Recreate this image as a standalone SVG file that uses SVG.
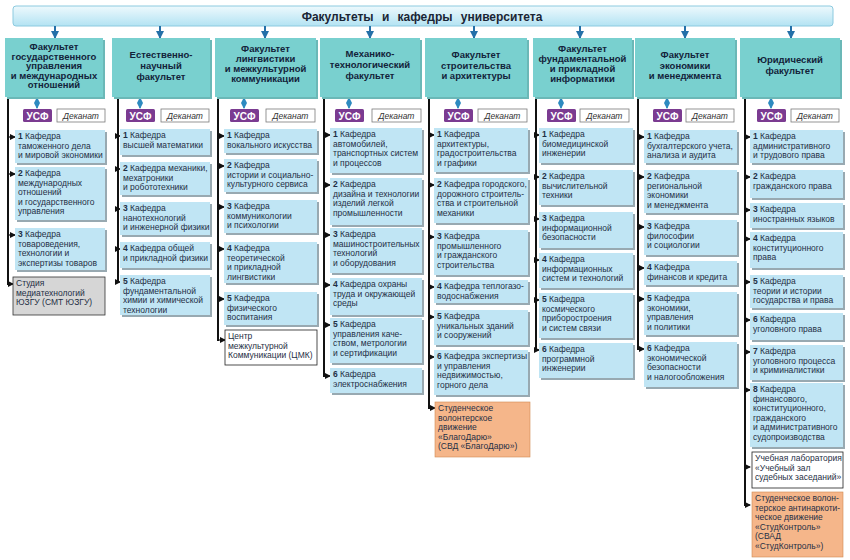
<svg xmlns="http://www.w3.org/2000/svg" width="850" height="560" viewBox="0 0 850 560">
<style>
.hd{fill:url(#hg);stroke:#8ccadf;stroke-width:1}
.htx{font:bold 12px 'Liberation Sans',sans-serif;fill:#1a2535;text-anchor:middle;word-spacing:5px}
.fac{fill:#79d0cf}
.fsh{fill:#6bb8b7}
.ft{font:bold 9.5px 'Liberation Sans',sans-serif;fill:#13233a;text-anchor:middle}
.it{fill:#c0e5f4}
.sh{fill:#98a9b1}
.gr{fill:#d6d6d6;stroke:#333;stroke-width:0.8}
.wh{fill:#fff;stroke:#222;stroke-width:0.8}
.or{fill:#f5b68a;stroke:#cf8a52;stroke-width:0.6}
.t{font:8.5px 'Liberation Sans',sans-serif;fill:#1f2f45}
.n{font-weight:bold}
.usf{fill:#7b3b91}
.ut{font:bold 10px 'Liberation Sans',sans-serif;fill:#fff;text-anchor:middle}
.dek{fill:#fff;stroke:#7a7a7a;stroke-width:0.8}
.dt{font:italic 8.5px 'Liberation Sans',sans-serif;fill:#333;text-anchor:middle}
.vl{stroke:#111;stroke-width:2;fill:none}
.br{stroke:#111;stroke-width:1.2;marker-end:url(#ab)}
.ha{stroke:#2470a8;stroke-width:2;marker-end:url(#abl)}
.da{stroke:#2d8ac0;stroke-width:1.5;marker-start:url(#ads);marker-end:url(#ade)}
</style>
<defs>
<linearGradient id="hg" x1="0" y1="0" x2="0" y2="1">
<stop offset="0" stop-color="#eef9fd"/><stop offset="1" stop-color="#b3e3f3"/>
</linearGradient>
<marker id="ab" markerWidth="6" markerHeight="6" refX="5" refY="3" orient="auto" markerUnits="userSpaceOnUse"><path d="M0,0 L6,3 L0,6 z" fill="#111"/></marker>
<marker id="abl" markerWidth="8" markerHeight="8" refX="7" refY="4" orient="auto" markerUnits="userSpaceOnUse"><path d="M0,0 L8,4 L0,8 z" fill="#2470a8"/></marker>
<marker id="ade" markerWidth="6" markerHeight="6" refX="5" refY="3" orient="auto" markerUnits="userSpaceOnUse"><path d="M0,0 L6,3 L0,6 z" fill="#2d8ac0"/></marker>
<marker id="ads" markerWidth="6" markerHeight="6" refX="1" refY="3" orient="auto" markerUnits="userSpaceOnUse"><path d="M6,0 L0,3 L6,6 z" fill="#2d8ac0"/></marker>
</defs>
<rect width="850" height="560" fill="#fff"/>

<g id="header">
<rect class="hd" x="13" y="6" width="820" height="20" rx="3"/>
<text class="htx" x="422" y="20.5">Факультеты и кафедры университета</text>
</g>

<g id="connectors">
<line class="ha" x1="55" y1="26" x2="55" y2="38"/>
<line class="ha" x1="160" y1="26" x2="160" y2="38"/>
<line class="ha" x1="265" y1="26" x2="265" y2="38"/>
<line class="ha" x1="370" y1="26" x2="370" y2="38"/>
<line class="ha" x1="474" y1="26" x2="474" y2="38"/>
<line class="ha" x1="580" y1="26" x2="580" y2="38"/>
<line class="ha" x1="685" y1="26" x2="685" y2="38"/>
<line class="ha" x1="791" y1="26" x2="791" y2="38"/>

<line class="da" x1="37" y1="98" x2="37" y2="108"/>
<line class="da" x1="140" y1="98" x2="140" y2="108"/>
<line class="da" x1="244" y1="98" x2="244" y2="108"/>
<line class="da" x1="349" y1="98" x2="349" y2="108"/>
<line class="da" x1="458" y1="98" x2="458" y2="108"/>
<line class="da" x1="561" y1="98" x2="561" y2="108"/>
<line class="da" x1="667" y1="98" x2="667" y2="108"/>
<line class="da" x1="771" y1="98" x2="771" y2="108"/>

<line class="vl" x1="8" y1="97" x2="8" y2="285"/>
<line class="br" x1="8" y1="137" x2="15" y2="137"/>
<line class="br" x1="8" y1="174" x2="15" y2="174"/>
<line class="br" x1="8" y1="235" x2="15" y2="235"/>
<line class="br" x1="8" y1="284" x2="13" y2="284"/>

<line class="vl" x1="118" y1="97" x2="118" y2="283"/>
<line class="br" x1="118" y1="136" x2="120" y2="136"/>
<line class="br" x1="118" y1="169" x2="120" y2="169"/>
<line class="br" x1="118" y1="209" x2="120" y2="209"/>
<line class="br" x1="118" y1="249" x2="120" y2="249"/>
<line class="br" x1="118" y1="282" x2="120" y2="282"/>

<line class="vl" x1="218" y1="97" x2="218" y2="341"/>
<line class="br" x1="218" y1="136" x2="224" y2="136"/>
<line class="br" x1="218" y1="166" x2="224" y2="166"/>
<line class="br" x1="218" y1="207" x2="224" y2="207"/>
<line class="br" x1="218" y1="249" x2="224" y2="249"/>
<line class="br" x1="218" y1="299" x2="224" y2="299"/>
<line class="br" x1="218" y1="340" x2="225" y2="340"/>

<line class="vl" x1="324" y1="97" x2="324" y2="377"/>
<line class="br" x1="324" y1="135" x2="330" y2="135"/>
<line class="br" x1="324" y1="185" x2="330" y2="185"/>
<line class="br" x1="324" y1="235" x2="330" y2="235"/>
<line class="br" x1="324" y1="285" x2="330" y2="285"/>
<line class="br" x1="324" y1="325" x2="330" y2="325"/>
<line class="br" x1="324" y1="376" x2="330" y2="376"/>

<line class="vl" x1="429" y1="97" x2="429" y2="409"/>
<line class="br" x1="429" y1="135" x2="434" y2="135"/>
<line class="br" x1="429" y1="185" x2="434" y2="185"/>
<line class="br" x1="429" y1="237" x2="434" y2="237"/>
<line class="br" x1="429" y1="287" x2="434" y2="287"/>
<line class="br" x1="429" y1="317" x2="434" y2="317"/>
<line class="br" x1="429" y1="357" x2="434" y2="357"/>
<line class="br" x1="429" y1="408" x2="435" y2="408"/>

<line class="vl" x1="536" y1="97" x2="536" y2="351"/>
<line class="br" x1="536" y1="135" x2="539" y2="135"/>
<line class="br" x1="536" y1="177" x2="539" y2="177"/>
<line class="br" x1="536" y1="219" x2="539" y2="219"/>
<line class="br" x1="536" y1="260" x2="539" y2="260"/>
<line class="br" x1="536" y1="300" x2="539" y2="300"/>
<line class="br" x1="536" y1="350" x2="539" y2="350"/>

<line class="vl" x1="638" y1="97" x2="638" y2="350"/>
<line class="br" x1="638" y1="137" x2="644" y2="137"/>
<line class="br" x1="638" y1="177" x2="644" y2="177"/>
<line class="br" x1="638" y1="227" x2="644" y2="227"/>
<line class="br" x1="638" y1="268" x2="644" y2="268"/>
<line class="br" x1="638" y1="299" x2="644" y2="299"/>
<line class="br" x1="638" y1="349" x2="644" y2="349"/>

<line class="vl" x1="745" y1="97" x2="745" y2="506"/>
<line class="br" x1="745" y1="137" x2="750" y2="137"/>
<line class="br" x1="745" y1="177" x2="750" y2="177"/>
<line class="br" x1="745" y1="210" x2="750" y2="210"/>
<line class="br" x1="745" y1="239" x2="750" y2="239"/>
<line class="br" x1="745" y1="282" x2="750" y2="282"/>
<line class="br" x1="745" y1="320" x2="750" y2="320"/>
<line class="br" x1="745" y1="352" x2="750" y2="352"/>
<line class="br" x1="745" y1="390" x2="750" y2="390"/>
<line class="br" x1="745" y1="467" x2="750" y2="467"/>
<line class="br" x1="745" y1="505" x2="750" y2="505"/>
</g>

<!-- Column 1 -->
<g id="fac1">
<rect class="fsh" x="7" y="40" width="98" height="59"/>
<rect class="fac" x="5" y="38" width="98" height="59"/>
<text class="ft" x="54" y="50">Факультет<tspan x="54" dy="9.5">государственного</tspan><tspan x="54" dy="9.5">управления</tspan><tspan x="54" dy="9.5">и международных</tspan><tspan x="54" dy="9.5">отношений</tspan></text>
</g>
<g id="usf1"><rect class="usf" x="23" y="109" width="29" height="13" rx="1.5"/><text class="ut" x="37.5" y="119.5">УСФ</text></g>
<g id="dek1"><rect class="dek" x="57" y="109" width="48" height="13"/><text class="dt" x="81" y="118.8">Деканат</text></g>
<g id="c1i1"><rect class="sh" x="17" y="132" width="90" height="33"/><rect class="it" x="15" y="130" width="90" height="33"/>
<text class="t" x="18" y="139"><tspan class="n">1</tspan> Кафедра<tspan x="18" dy="9.6">таможенного дела</tspan><tspan x="18" dy="9.6">и мировой экономики</tspan></text></g>
<g id="c1i2"><rect class="sh" x="17" y="169" width="90" height="53"/><rect class="it" x="15" y="167" width="90" height="53"/>
<text class="t" x="18" y="176"><tspan class="n">2</tspan> Кафедра<tspan x="18" dy="9.6">международных</tspan><tspan x="18" dy="9.6">отношений</tspan><tspan x="18" dy="9.6">и государственного</tspan><tspan x="18" dy="9.6">управления</tspan></text></g>
<g id="c1i3"><rect class="sh" x="17" y="230" width="90" height="42"/><rect class="it" x="15" y="228" width="90" height="42"/>
<text class="t" x="18" y="237"><tspan class="n">3</tspan> Кафедра<tspan x="18" dy="9.6">товароведения,</tspan><tspan x="18" dy="9.6">технологии и</tspan><tspan x="18" dy="9.6">экспертизы товаров</tspan></text></g>
<g id="c1s"><rect class="gr" x="13" y="277" width="92" height="38"/>
<text class="t" x="16" y="286">Студия<tspan x="16" dy="9.6">медиатехнологий</tspan><tspan x="16" dy="9.6">ЮЗГУ (СМТ ЮЗГУ)</tspan></text></g>

<!-- Column 2 -->
<g id="fac2">
<rect class="fsh" x="114" y="40" width="98" height="59"/>
<rect class="fac" x="112" y="38" width="98" height="59"/>
<text class="ft" x="161" y="58">Естественно-<tspan x="161" dy="11">научный</tspan><tspan x="161" dy="11">факультет</tspan></text>
</g>
<g id="usf2"><rect class="usf" x="126" y="109" width="29" height="13" rx="1.5"/><text class="ut" x="140.5" y="119.5">УСФ</text></g>
<g id="dek2"><rect class="dek" x="161" y="109" width="48" height="13"/><text class="dt" x="185" y="118.8">Деканат</text></g>
<g id="c2i1"><rect class="sh" x="122" y="131" width="90" height="26"/><rect class="it" x="120" y="129" width="90" height="26"/>
<text class="t" x="123" y="138"><tspan class="n">1</tspan> Кафедра<tspan x="123" dy="9.6">высшей математики</tspan></text></g>
<g id="c2i2"><rect class="sh" x="122" y="164" width="90" height="33"/><rect class="it" x="120" y="162" width="90" height="33"/>
<text class="t" x="123" y="171"><tspan class="n">2</tspan> Кафедра механики,<tspan x="123" dy="9.6">мехатроники</tspan><tspan x="123" dy="9.6">и робототехники</tspan></text></g>
<g id="c2i3"><rect class="sh" x="122" y="204" width="90" height="33"/><rect class="it" x="120" y="202" width="90" height="33"/>
<text class="t" x="123" y="211"><tspan class="n">3</tspan> Кафедра<tspan x="123" dy="9.6">нанотехнологий</tspan><tspan x="123" dy="9.6">и инженерной физики</tspan></text></g>
<g id="c2i4"><rect class="sh" x="122" y="244" width="90" height="26"/><rect class="it" x="120" y="242" width="90" height="26"/>
<text class="t" x="123" y="251"><tspan class="n">4</tspan> Кафедра общей<tspan x="123" dy="9.6">и прикладной физики</tspan></text></g>
<g id="c2i5"><rect class="sh" x="122" y="277" width="90" height="40"/><rect class="it" x="120" y="275" width="90" height="40"/>
<text class="t" x="123" y="284"><tspan class="n">5</tspan> Кафедра<tspan x="123" dy="9.6">фундаментальной</tspan><tspan x="123" dy="9.6">химии и химической</tspan><tspan x="123" dy="9.6">технологии</tspan></text></g>

<!-- Column 3 -->
<g id="fac3">
<rect class="fsh" x="217" y="40" width="101" height="59"/>
<rect class="fac" x="215" y="38" width="101" height="59"/>
<text class="ft" x="265.5" y="52">Факультет<tspan x="265.5" dy="10">лингвистики</tspan><tspan x="265.5" dy="10">и межкультурной</tspan><tspan x="265.5" dy="10">коммуникации</tspan></text>
</g>
<g id="usf3"><rect class="usf" x="230" y="109" width="29" height="13" rx="1.5"/><text class="ut" x="244.5" y="119.5">УСФ</text></g>
<g id="dek3"><rect class="dek" x="266" y="109" width="49" height="13"/><text class="dt" x="290.5" y="118.8">Деканат</text></g>
<g id="c3i1"><rect class="sh" x="226" y="131" width="93" height="24"/><rect class="it" x="224" y="129" width="93" height="24"/>
<text class="t" x="227" y="138"><tspan class="n">1</tspan> Кафедра<tspan x="227" dy="9.6">вокального искусства</tspan></text></g>
<g id="c3i2"><rect class="sh" x="226" y="161" width="93" height="33"/><rect class="it" x="224" y="159" width="93" height="33"/>
<text class="t" x="227" y="168"><tspan class="n">2</tspan> Кафедра<tspan x="227" dy="9.6">истории и социально-</tspan><tspan x="227" dy="9.6">культурного сервиса</tspan></text></g>
<g id="c3i3"><rect class="sh" x="226" y="202" width="93" height="33"/><rect class="it" x="224" y="200" width="93" height="33"/>
<text class="t" x="227" y="209"><tspan class="n">3</tspan> Кафедра<tspan x="227" dy="9.6">коммуникологии</tspan><tspan x="227" dy="9.6">и психологии</tspan></text></g>
<g id="c3i4"><rect class="sh" x="226" y="244" width="93" height="41"/><rect class="it" x="224" y="242" width="93" height="41"/>
<text class="t" x="227" y="251"><tspan class="n">4</tspan> Кафедра<tspan x="227" dy="9.6">теоретической</tspan><tspan x="227" dy="9.6">и прикладной</tspan><tspan x="227" dy="9.6">лингвистики</tspan></text></g>
<g id="c3i5"><rect class="sh" x="226" y="294" width="93" height="33"/><rect class="it" x="224" y="292" width="93" height="33"/>
<text class="t" x="227" y="301"><tspan class="n">5</tspan> Кафедра<tspan x="227" dy="9.6">физического</tspan><tspan x="227" dy="9.6">воспитания</tspan></text></g>
<g id="c3c"><rect class="wh" x="225" y="330" width="92" height="35"/>
<text class="t" x="228" y="339">Центр<tspan x="228" dy="9.6">межкультурной</tspan><tspan x="228" dy="9.6">Коммуникации (ЦМК)</tspan></text></g>

<!-- Column 4 -->
<g id="fac4">
<rect class="fsh" x="322" y="40" width="100" height="59"/>
<rect class="fac" x="320" y="38" width="100" height="59"/>
<text class="ft" x="370" y="57">Механико-<tspan x="370" dy="11">технологический</tspan><tspan x="370" dy="11">факультет</tspan></text>
</g>
<g id="usf4"><rect class="usf" x="335" y="109" width="29" height="13" rx="1.5"/><text class="ut" x="349.5" y="119.5">УСФ</text></g>
<g id="dek4"><rect class="dek" x="372" y="109" width="49" height="13"/><text class="dt" x="396.5" y="118.8">Деканат</text></g>
<g id="c4i1"><rect class="sh" x="332" y="130" width="92" height="45"/><rect class="it" x="330" y="128" width="92" height="45"/>
<text class="t" x="333" y="137"><tspan class="n">1</tspan> Кафедра<tspan x="333" dy="9.6">автомобилей,</tspan><tspan x="333" dy="9.6">транспортных систем</tspan><tspan x="333" dy="9.6">и процессов</tspan></text></g>
<g id="c4i2"><rect class="sh" x="332" y="180" width="92" height="47"/><rect class="it" x="330" y="178" width="92" height="47"/>
<text class="t" x="333" y="187"><tspan class="n">2</tspan> Кафедра<tspan x="333" dy="9.6">дизайна и технологии</tspan><tspan x="333" dy="9.6">изделий легкой</tspan><tspan x="333" dy="9.6">промышленности</tspan></text></g>
<g id="c4i3"><rect class="sh" x="332" y="230" width="92" height="45"/><rect class="it" x="330" y="228" width="92" height="45"/>
<text class="t" x="333" y="237"><tspan class="n">3</tspan> Кафедра<tspan x="333" dy="9.6">машиностроительных</tspan><tspan x="333" dy="9.6">технологий</tspan><tspan x="333" dy="9.6">и оборудования</tspan></text></g>
<g id="c4i4"><rect class="sh" x="332" y="280" width="92" height="37"/><rect class="it" x="330" y="278" width="92" height="37"/>
<text class="t" x="333" y="287"><tspan class="n">4</tspan> Кафедра охраны<tspan x="333" dy="9.6">труда и окружающей</tspan><tspan x="333" dy="9.6">среды</tspan></text></g>
<g id="c4i5"><rect class="sh" x="332" y="320" width="92" height="45"/><rect class="it" x="330" y="318" width="92" height="45"/>
<text class="t" x="333" y="327"><tspan class="n">5</tspan> Кафедра<tspan x="333" dy="9.6">управления каче-</tspan><tspan x="333" dy="9.6">ством, метрологии</tspan><tspan x="333" dy="9.6">и сертификации</tspan></text></g>
<g id="c4i6"><rect class="sh" x="332" y="370" width="92" height="25"/><rect class="it" x="330" y="368" width="92" height="25"/>
<text class="t" x="333" y="377"><tspan class="n">6</tspan> Кафедра<tspan x="333" dy="9.6">электроснабжения</tspan></text></g>

<!-- Column 5 -->
<g id="fac5">
<rect class="fsh" x="427" y="40" width="102" height="59"/>
<rect class="fac" x="425" y="38" width="102" height="59"/>
<text class="ft" x="476" y="58">Факультет<tspan x="476" dy="10.5">строительства</tspan><tspan x="476" dy="10.5">и архитектуры</tspan></text>
</g>
<g id="usf5"><rect class="usf" x="444" y="109" width="29" height="13" rx="1.5"/><text class="ut" x="458.5" y="119.5">УСФ</text></g>
<g id="dek5"><rect class="dek" x="478" y="109" width="49" height="13"/><text class="dt" x="502.5" y="118.8">Деканат</text></g>
<g id="c5i1"><rect class="sh" x="436" y="130" width="94" height="44"/><rect class="it" x="434" y="128" width="94" height="44"/>
<text class="t" x="437" y="137"><tspan class="n">1</tspan> Кафедра<tspan x="437" dy="9.6">архитектуры,</tspan><tspan x="437" dy="9.6">градостроительства</tspan><tspan x="437" dy="9.6">и графики</tspan></text></g>
<g id="c5i2"><rect class="sh" x="436" y="180" width="94" height="45"/><rect class="it" x="434" y="178" width="94" height="45"/>
<text class="t" x="437" y="187"><tspan class="n">2</tspan> Кафедра городского,<tspan x="437" dy="9.6">дорожного строитель-</tspan><tspan x="437" dy="9.6">ства и строительной</tspan><tspan x="437" dy="9.6">механики</tspan></text></g>
<g id="c5i3"><rect class="sh" x="436" y="232" width="94" height="45"/><rect class="it" x="434" y="230" width="94" height="45"/>
<text class="t" x="437" y="239"><tspan class="n">3</tspan> Кафедра<tspan x="437" dy="9.6">промышленного</tspan><tspan x="437" dy="9.6">и гражданского</tspan><tspan x="437" dy="9.6">строительства</tspan></text></g>
<g id="c5i4"><rect class="sh" x="436" y="282" width="94" height="23"/><rect class="it" x="434" y="280" width="94" height="23"/>
<text class="t" x="437" y="289"><tspan class="n">4</tspan> Кафедра теплогазо-<tspan x="437" dy="9.6">водоснабжения</tspan></text></g>
<g id="c5i5"><rect class="sh" x="436" y="312" width="94" height="35"/><rect class="it" x="434" y="310" width="94" height="35"/>
<text class="t" x="437" y="319"><tspan class="n">5</tspan> Кафедра<tspan x="437" dy="9.6">уникальных зданий</tspan><tspan x="437" dy="9.6">и сооружений</tspan></text></g>
<g id="c5i6"><rect class="sh" x="436" y="352" width="94" height="45"/><rect class="it" x="434" y="350" width="94" height="45"/>
<text class="t" x="437" y="359"><tspan class="n">6</tspan> Кафедра экспертизы<tspan x="437" dy="9.6">и управления</tspan><tspan x="437" dy="9.6">недвижимостью,</tspan><tspan x="437" dy="9.6">горного дела</tspan></text></g>
<g id="c5o"><rect class="or" x="435" y="402" width="95" height="55"/>
<text class="t" x="438" y="411">Студенческое<tspan x="438" dy="9.6">волонтерское</tspan><tspan x="438" dy="9.6">движение</tspan><tspan x="438" dy="9.6">«БлагоДарю»</tspan><tspan x="438" dy="9.6">(СВД «БлагоДарю»)</tspan></text></g>

<!-- Column 6 -->
<g id="fac6">
<rect class="fsh" x="535" y="40" width="99" height="59"/>
<rect class="fac" x="533" y="38" width="99" height="59"/>
<text class="ft" x="582.5" y="52">Факультет<tspan x="582.5" dy="10">фундаментальной</tspan><tspan x="582.5" dy="10">и прикладной</tspan><tspan x="582.5" dy="10">информатики</tspan></text>
</g>
<g id="usf6"><rect class="usf" x="547" y="109" width="29" height="13" rx="1.5"/><text class="ut" x="561.5" y="119.5">УСФ</text></g>
<g id="dek6"><rect class="dek" x="580" y="109" width="49" height="13"/><text class="dt" x="604.5" y="118.8">Деканат</text></g>
<g id="c6i1"><rect class="sh" x="541" y="130" width="94" height="35"/><rect class="it" x="539" y="128" width="94" height="35"/>
<text class="t" x="542" y="137"><tspan class="n">1</tspan> Кафедра<tspan x="542" dy="9.6">биомедицинской</tspan><tspan x="542" dy="9.6">инженерии</tspan></text></g>
<g id="c6i2"><rect class="sh" x="541" y="172" width="94" height="35"/><rect class="it" x="539" y="170" width="94" height="35"/>
<text class="t" x="542" y="179"><tspan class="n">2</tspan> Кафедра<tspan x="542" dy="9.6">вычислительной</tspan><tspan x="542" dy="9.6">техники</tspan></text></g>
<g id="c6i3"><rect class="sh" x="541" y="214" width="94" height="36"/><rect class="it" x="539" y="212" width="94" height="36"/>
<text class="t" x="542" y="221"><tspan class="n">3</tspan> Кафедра<tspan x="542" dy="9.6">информационной</tspan><tspan x="542" dy="9.6">безопасности</tspan></text></g>
<g id="c6i4"><rect class="sh" x="541" y="255" width="94" height="35"/><rect class="it" x="539" y="253" width="94" height="35"/>
<text class="t" x="542" y="262"><tspan class="n">4</tspan> Кафедра<tspan x="542" dy="9.6">информационных</tspan><tspan x="542" dy="9.6">систем и технологий</tspan></text></g>
<g id="c6i5"><rect class="sh" x="541" y="295" width="94" height="45"/><rect class="it" x="539" y="293" width="94" height="45"/>
<text class="t" x="542" y="302"><tspan class="n">5</tspan> Кафедра<tspan x="542" dy="9.6">космического</tspan><tspan x="542" dy="9.6">приборостроения</tspan><tspan x="542" dy="9.6">и систем связи</tspan></text></g>
<g id="c6i6"><rect class="sh" x="541" y="345" width="94" height="35"/><rect class="it" x="539" y="343" width="94" height="35"/>
<text class="t" x="542" y="352"><tspan class="n">6</tspan> Кафедра<tspan x="542" dy="9.6">программной</tspan><tspan x="542" dy="9.6">инженерии</tspan></text></g>

<!-- Column 7 -->
<g id="fac7">
<rect class="fsh" x="637" y="40" width="100" height="59"/>
<rect class="fac" x="635" y="38" width="100" height="59"/>
<text class="ft" x="685" y="58">Факультет<tspan x="685" dy="10.5">экономики</tspan><tspan x="685" dy="10.5">и менеджмента</tspan></text>
</g>
<g id="usf7"><rect class="usf" x="653" y="109" width="29" height="13" rx="1.5"/><text class="ut" x="667.5" y="119.5">УСФ</text></g>
<g id="dek7"><rect class="dek" x="686" y="109" width="48" height="13"/><text class="dt" x="710" y="118.8">Деканат</text></g>
<g id="c7i1"><rect class="sh" x="646" y="132" width="93" height="33"/><rect class="it" x="644" y="130" width="93" height="33"/>
<text class="t" x="647" y="139"><tspan class="n">1</tspan> Кафедра<tspan x="647" dy="9.6">бухгалтерского учета,</tspan><tspan x="647" dy="9.6">анализа и аудита</tspan></text></g>
<g id="c7i2"><rect class="sh" x="646" y="172" width="93" height="43"/><rect class="it" x="644" y="170" width="93" height="43"/>
<text class="t" x="647" y="179"><tspan class="n">2</tspan> Кафедра<tspan x="647" dy="9.6">региональной</tspan><tspan x="647" dy="9.6">экономики</tspan><tspan x="647" dy="9.6">и менеджмента</tspan></text></g>
<g id="c7i3"><rect class="sh" x="646" y="222" width="93" height="35"/><rect class="it" x="644" y="220" width="93" height="35"/>
<text class="t" x="647" y="229"><tspan class="n">3</tspan> Кафедра<tspan x="647" dy="9.6">философии</tspan><tspan x="647" dy="9.6">и социологии</tspan></text></g>
<g id="c7i4"><rect class="sh" x="646" y="263" width="93" height="24"/><rect class="it" x="644" y="261" width="93" height="24"/>
<text class="t" x="647" y="270"><tspan class="n">4</tspan> Кафедра<tspan x="647" dy="9.6">финансов и кредита</tspan></text></g>
<g id="c7i5"><rect class="sh" x="646" y="294" width="93" height="43"/><rect class="it" x="644" y="292" width="93" height="43"/>
<text class="t" x="647" y="301"><tspan class="n">5</tspan> Кафедра<tspan x="647" dy="9.6">экономики,</tspan><tspan x="647" dy="9.6">управления</tspan><tspan x="647" dy="9.6">и политики</tspan></text></g>
<g id="c7i6"><rect class="sh" x="646" y="344" width="93" height="45"/><rect class="it" x="644" y="342" width="93" height="45"/>
<text class="t" x="647" y="351"><tspan class="n">6</tspan> Кафедра<tspan x="647" dy="9.6">экономической</tspan><tspan x="647" dy="9.6">безопасности</tspan><tspan x="647" dy="9.6">и налогообложения</tspan></text></g>

<!-- Column 8 -->
<g id="fac8">
<rect class="fsh" x="742" y="40" width="100" height="59"/>
<rect class="fac" x="740" y="38" width="100" height="59"/>
<text class="ft" x="790" y="63">Юридический<tspan x="790" dy="11">факультет</tspan></text>
</g>
<g id="usf8"><rect class="usf" x="757" y="109" width="29" height="13" rx="1.5"/><text class="ut" x="771.5" y="119.5">УСФ</text></g>
<g id="dek8"><rect class="dek" x="791" y="109" width="48" height="13"/><text class="dt" x="815" y="118.8">Деканат</text></g>
<g id="c8i1"><rect class="sh" x="752" y="132" width="93" height="33"/><rect class="it" x="750" y="130" width="93" height="33"/>
<text class="t" x="753" y="139"><tspan class="n">1</tspan> Кафедра<tspan x="753" dy="9.6">административного</tspan><tspan x="753" dy="9.6">и трудового права</tspan></text></g>
<g id="c8i2"><rect class="sh" x="752" y="172" width="93" height="28"/><rect class="it" x="750" y="170" width="93" height="28"/>
<text class="t" x="753" y="179"><tspan class="n">2</tspan> Кафедра<tspan x="753" dy="9.6">гражданского права</tspan></text></g>
<g id="c8i3"><rect class="sh" x="752" y="205" width="93" height="25"/><rect class="it" x="750" y="203" width="93" height="25"/>
<text class="t" x="753" y="212"><tspan class="n">3</tspan> Кафедра<tspan x="753" dy="9.6">иностранных языков</tspan></text></g>
<g id="c8i4"><rect class="sh" x="752" y="234" width="93" height="36"/><rect class="it" x="750" y="232" width="93" height="36"/>
<text class="t" x="753" y="241"><tspan class="n">4</tspan> Кафедра<tspan x="753" dy="9.6">конституционного</tspan><tspan x="753" dy="9.6">права</tspan></text></g>
<g id="c8i5"><rect class="sh" x="752" y="277" width="93" height="33"/><rect class="it" x="750" y="275" width="93" height="33"/>
<text class="t" x="753" y="284"><tspan class="n">5</tspan> Кафедра<tspan x="753" dy="9.6">теории и истории</tspan><tspan x="753" dy="9.6">государства и права</tspan></text></g>
<g id="c8i6"><rect class="sh" x="752" y="315" width="93" height="27"/><rect class="it" x="750" y="313" width="93" height="27"/>
<text class="t" x="753" y="322"><tspan class="n">6</tspan> Кафедра<tspan x="753" dy="9.6">уголовного права</tspan></text></g>
<g id="c8i7"><rect class="sh" x="752" y="347" width="93" height="35"/><rect class="it" x="750" y="345" width="93" height="35"/>
<text class="t" x="753" y="354"><tspan class="n">7</tspan> Кафедра<tspan x="753" dy="9.6">уголовного процесса</tspan><tspan x="753" dy="9.6">и криминалистики</tspan></text></g>
<g id="c8i8"><rect class="sh" x="752" y="385" width="93" height="64"/><rect class="it" x="750" y="383" width="93" height="64"/>
<text class="t" x="753" y="392"><tspan class="n">8</tspan> Кафедра<tspan x="753" dy="9.6">финансового,</tspan><tspan x="753" dy="9.6">конституционного,</tspan><tspan x="753" dy="9.6">гражданского</tspan><tspan x="753" dy="9.6">и административного</tspan><tspan x="753" dy="9.6">судопроизводства</tspan></text></g>
<g id="c8l"><rect class="wh" x="752" y="452" width="91" height="36"/>
<text class="t" x="755" y="461">Учебная лаборатория<tspan x="755" dy="9.6">«Учебный зал</tspan><tspan x="755" dy="9.6">судебных заседаний»</tspan></text></g>
<g id="c8o"><rect class="or" x="752" y="492" width="91" height="65"/>
<text class="t" x="755" y="501">Студенческое волон-<tspan x="755" dy="9.6">терское антинаркоти-</tspan><tspan x="755" dy="9.6">ческое движение</tspan><tspan x="755" dy="9.6">«СтудКонтроль»</tspan><tspan x="755" dy="9.6">(СВАД</tspan><tspan x="755" dy="9.6">«СтудКонтроль»)</tspan></text></g>
</svg>
